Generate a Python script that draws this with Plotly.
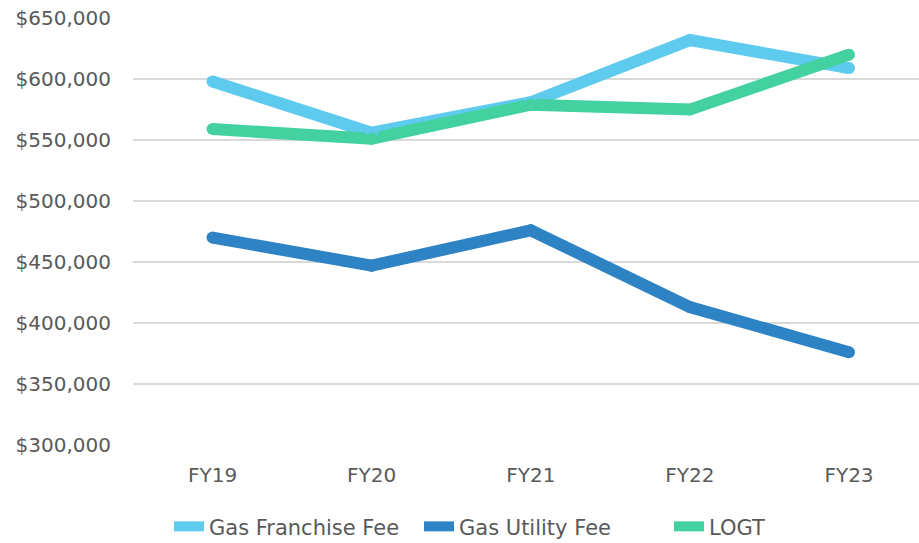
import plotly.graph_objects as go

years = ["FY19", "FY20", "FY21", "FY22", "FY23"]
gas_franchise_fee = [598000, 556000, 581000, 632000, 609000]
gas_utility_fee = [470000, 447000, 476000, 413000, 376000]
logt = [559000, 551000, 579000, 575000, 620000]
y_ticks = [300000, 350000, 400000, 450000, 500000, 550000, 600000, 650000]

series = [
    ("Gas Franchise Fee", gas_franchise_fee, "#5DCAEE"),
    ("Gas Utility Fee", gas_utility_fee, "#2E83C4"),
    ("LOGT", logt, "#43D19F"),
]

fig = go.Figure()
for name, vals, col in series:
    fig.add_trace(go.Scatter(x=years, y=vals, mode="lines", name=name,
                             line=dict(color=col, width=12)))
for name, vals, col in series:
    fig.add_trace(go.Scatter(x=years, y=vals, mode="markers", showlegend=False,
                             marker=dict(color=col, size=12, line=dict(width=0)),
                             hoverinfo="skip"))

font_family = "DejaVu Sans, Liberation Sans, sans-serif"
fig.update_layout(
    width=919, height=543,
    margin=dict(l=133, r=0, t=18, b=98),
    plot_bgcolor="white", paper_bgcolor="white",
    font=dict(family=font_family, size=20, color="#595959"),
    showlegend=True,
    legend=dict(orientation="h", x=0.539, xanchor="center",
                yref="container", y=0.03, yanchor="middle",
                font=dict(size=21, color="#595959"),
                entrywidth=205, entrywidthmode="pixels",
                tracegroupgap=0),
    xaxis=dict(type="category", range=[-0.5, 4.44], showgrid=False, zeroline=False,
               showline=False, ticks="outside", ticklen=12, tickcolor="rgba(0,0,0,0)",
               tickfont=dict(size=20, color="#595959"), automargin=False),
    yaxis=dict(range=[299900, 650100], tickvals=y_ticks,
               ticktext=[f"${v:,}" for v in y_ticks],
               showgrid=True, gridcolor="#D9D9D9", gridwidth=2, zeroline=False,
               showline=False, ticks="outside", ticklen=17, tickcolor="rgba(0,0,0,0)",
               tickfont=dict(size=20, color="#595959"), automargin=False,
               ticklabeloverflow="allow"),
)

fig.write_html("out.html", config={"displayModeBar": False},
               post_script="document.body.style.margin='0';")
